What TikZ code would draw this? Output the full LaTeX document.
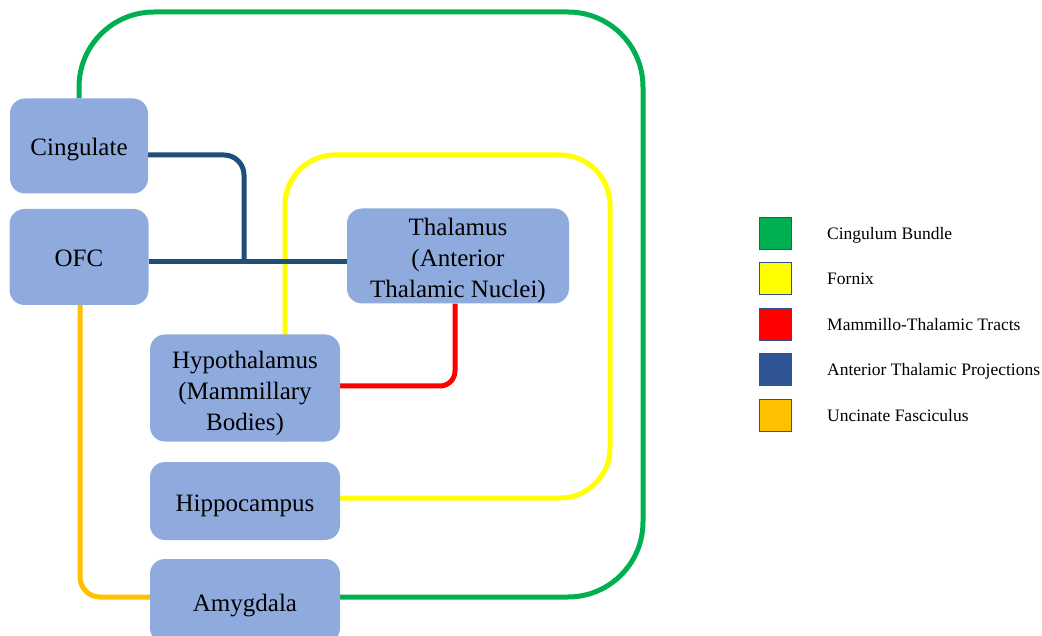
\documentclass[tikz,border=0pt]{standalone}
\usepackage{fontspec}
\setmainfont{Liberation Serif}
\usetikzlibrary{backgrounds}
\definecolor{boxfill}{HTML}{8FAADC}
\definecolor{cingcol}{HTML}{00B050}
\definecolor{fornixcol}{HTML}{FFFF00}
\definecolor{mttcol}{HTML}{FF0000}
\definecolor{atpcol}{HTML}{1F4E79}
\definecolor{atplegcol}{HTML}{2F5597}
\definecolor{unccol}{HTML}{FFC000}
\definecolor{legedge}{HTML}{2F528F}
\tikzset{
  region/.style = {rectangle, rounded corners = 15pt, fill = boxfill, align = center,
    font = \fontsize{25}{31}\selectfont, inner sep = 0pt, text height = 22pt, text depth = 2pt},
  threeline/.style = {text height = 86pt, text depth = 2pt},
  tract/.style = {line width = 5pt},
  legbox/.style = {rectangle, draw = legedge, line width = 1pt, minimum size = 32pt, inner sep = 0pt},
  legtext/.style = {anchor = base west, font = \fontsize{17.5}{20}\selectfont, inner sep = 0pt}
}
\begin{document}
\begin{tikzpicture}[x = 1pt, y = -1pt]
\useasboundingbox (0, 0) rectangle (1042, 636);
\node[region, minimum width = 138pt, minimum height = 95pt] (cing) at (79, 146) {Cingulate};
\node[region, minimum width = 139pt, minimum height = 96pt] (ofc) at (79, 257) {OFC};
\node[region, threeline, minimum width = 222pt, minimum height = 95pt] (thal) at (458, 256) {Thalamus\\(Anterior\\Thalamic Nuclei)};
\node[region, threeline, minimum width = 190pt, minimum height = 107pt] (hypo) at (245, 388) {Hypothalamus\\(Mammillary\\Bodies)};
\node[region, minimum width = 190pt, minimum height = 78pt] (hippo) at (245, 501) {Hippocampus};
\node[region, minimum width = 190pt, minimum height = 84pt] (amyg) at (245, 601) {Amygdala};
\coordinate (junc) at (244, 262);
\begin{scope}[on background layer]
\draw[tract, cingcol, rounded corners = 75pt] (cing.north) -- (cing.north |- 0, 12) -- (643, 12) -- (643, 597) -- (amyg.east |- 0, 597);
\draw[tract, fornixcol, rounded corners = 50pt] ([xshift = 40pt]hypo.south) -- (285, 155) -- (610, 155) -- (610, 498) -- (hippo.east |- 0, 498);
\draw[tract, mttcol, rounded corners = 15pt] ([xshift = -3pt]thal.south) |- (hypo.east |- 0, 386);
\draw[tract, atpcol, rounded corners = 20pt] (cing.east |- 0, 155) -| (junc);
\draw[tract, atpcol] (ofc.east |- junc) -- (thal.west |- junc);
\draw[tract, unccol, rounded corners = 20pt] ([xshift = 1pt]ofc.south) |- (amyg.west |- 0, 597);
\end{scope}
\foreach \i/\col/\txt in {1/cingcol/Cingulum Bundle, 2/fornixcol/Fornix, 3/mttcol/Mammillo-Thalamic Tracts, 4/atplegcol/Anterior Thalamic Projections, 5/unccol/Uncinate Fasciculus} {
  \node[legbox, fill = \col] (leg\i) at (775, 233.5 + 45.5*\i - 45.5) {};
  \node[legtext] (legtxt\i) at (827, 239.5 + 45.5*\i - 45.5) {\txt};
}
\end{tikzpicture}
\end{document}
